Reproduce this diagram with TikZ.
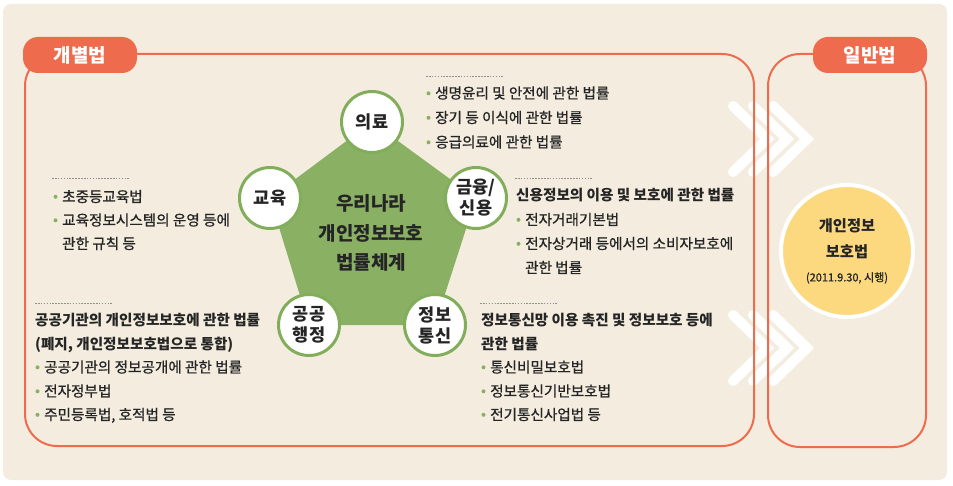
\documentclass[tikz,border=0pt]{standalone}
\usepackage{fontspec}
\setmainfont{Noto Sans CJK KR}
\newfontfamily\bodyfont[FakeBold=0.8]{Noto Sans CJK KR}
\definecolor{bgc}{HTML}{F3ECDF}
\definecolor{orangec}{HTML}{EE6C4D}
\definecolor{greenc}{HTML}{8AB163}
\definecolor{greenline}{HTML}{82AE5C}
\definecolor{yellowc}{HTML}{FCD87F}
\definecolor{txtc}{HTML}{252525}
\definecolor{dotc}{HTML}{8F8F8F}
\newcommand{\lawitem}[4]{%
  \node[itemtxt] (#1) at (#2,#3) {#4};
  \fill[greenc] ([xshift=-6.5pt,yshift=5.2pt]#1.base west) circle (2pt);
}
\begin{document}
\begin{tikzpicture}[x=1pt,y=-1pt,
  itemtxt/.style={anchor=base west, inner sep=0pt, text=txtc, font=\bodyfont\mdseries\fontsize{14.6}{16}\selectfont},
  headtxt/.style={itemtxt, font=\fontsize{14.6}{16}\selectfont\bfseries},
  dotline/.style={dotc, line width=0.8pt, dash pattern=on 1.6pt off 1.3pt},
  frame/.style={orangec, line width=2pt, rounded corners=32pt},
  tag/.style={fill=orangec, rounded corners=15pt, minimum width=114pt, minimum height=36pt, inner sep=0pt, text=white, font=\fontsize{19}{20}\selectfont\bfseries},
  area/.style={circle, draw=greenline, line width=3pt, fill=white, minimum size=61pt, inner sep=0pt, align=center, text=txtc, font=\fontsize{17.5}{21}\selectfont\bfseries},
  chev/.style={white, line width=10pt, line cap=round, line join=miter}
]
\useasboundingbox (0,0) rectangle (953,486);
\fill[bgc, rounded corners=8pt] (3,4) rectangle (947,480);

% chevrons
\foreach \k in {0,1,2}{
  \draw[chev] (733+20*\k,106) -- (767+20*\k,139) -- (733+20*\k,172);
  \draw[chev] (733+20*\k,315) -- (767+20*\k,348) -- (733+20*\k,381);
}

% frames
\draw[frame] (25,54) rectangle (754,446);
\draw[frame] (768,54) rectangle (926,447);
\node[tag] (tagA) at (80,55) {개별법};
\node[tag] (tagB) at (870,55) {일반법};

% pentagon
\coordinate (pT) at (372,122);
\coordinate (pL) at (270,198);
\coordinate (pR) at (476,198);
\coordinate (pBL) at (309,325);
\coordinate (pBR) at (435,325);
\fill[greenc] (pT) -- (pR) -- (pBR) -- (pBL) -- (pL) -- cycle;
\node[align=center, text=txtc, font=\fontsize{19}{29.5}\selectfont\bfseries] (core) at (371,233) {우리나라\\개인정보보호\\법률체계};

\node[area] (med) at (pT) {의료};
\node[area] (edu) at (pL) {교육};
\node[area] (fin) at (pR) {금융/\\신용};
\node[area] (pub) at (pBL) {공공\\행정};
\node[area] (ict) at (pBR) {정보\\통신};

% general law circle
\node[circle, fill=yellowc, draw=white, line width=4pt, minimum size=132pt, inner sep=0pt, align=center, text=txtc, font=\fontsize{15.3}{26}\selectfont\bfseries] (pipa) at (847,251)
  {개인정보\\보호법\\[-2pt]{\bodyfont\mdseries\fontsize{11}{13}\selectfont (2011.9.30, 시행)}};

% medical block
\draw[dotline] (426,76) -- (503,76);
\lawitem{m1}{435}{98.5}{생명윤리 및 안전에 관한 법률}
\lawitem{m2}{435}{123}{장기 등 이식에 관한 법률}
\lawitem{m3}{435}{147.5}{응급의료에 관한 법률}

% finance block
\draw[dotline] (515,178) -- (593,178);
\node[headtxt] (f0) at (516,201) {신용정보의 이용 및 보호에 관한 법률};
\lawitem{f1}{525}{225}{전자거래기본법}
\lawitem{f2}{525}{249}{전자상거래 등에서의 소비자보호에}
\node[itemtxt] (f3) at (525,273) {관한 법률};

% education block
\draw[dotline] (52,178) -- (130,178);
\lawitem{e1}{62}{202}{초중등교육법}
\lawitem{e2}{62}{225.5}{교육정보시스템의 운영 등에}
\node[itemtxt] (e3) at (62,249) {관한 규칙 등};

% public administration block
\draw[dotline] (35,303) -- (112,303);
\node[headtxt] (g0) at (35,325.5) {공공기관의 개인정보보호에 관한 법률};
\node[headtxt] (g1) at (35,349) {(폐지, 개인정보보호법으로 통합)};
\lawitem{g2}{44}{372.5}{공공기관의 정보공개에 관한 법률}
\lawitem{g3}{44}{396.5}{전자정부법}
\lawitem{g4}{44}{420}{주민등록법, 호적법 등}

% ICT block
\draw[dotline] (480,303) -- (558,303);
\node[headtxt] (i0) at (481,325.5) {정보통신망 이용 촉진 및 정보보호 등에};
\node[headtxt] (i1) at (481,349) {관한 법률};
\lawitem{i2}{490}{372.5}{통신비밀보호법}
\lawitem{i3}{490}{396.5}{정보통신기반보호법}
\lawitem{i4}{490}{420}{전기통신사업법 등}
\end{tikzpicture}
\end{document}
